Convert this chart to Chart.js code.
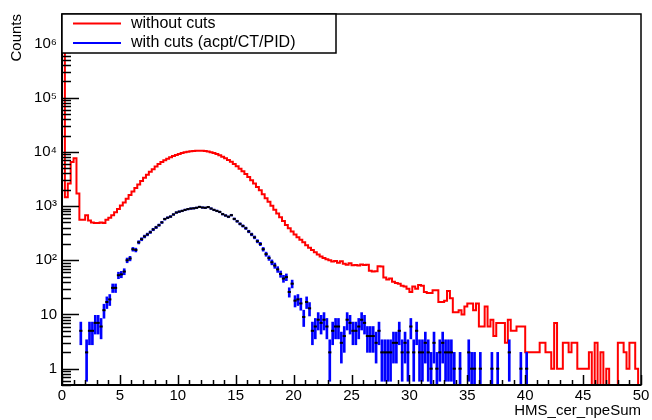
<!DOCTYPE html>
<html>
<head>
<meta charset="utf-8">
<script src="https://cdn.jsdelivr.net/npm/chart.js@4.4.1/dist/chart.umd.min.js"></script>
<style>
  body { margin: 0; background: #fff; }
  #wrap { width: 652px; height: 420px; }
</style>
</head>
<body>
<div id="wrap"><canvas id="npe-chart" width="652" height="420"></canvas></div>
<script>
// 200 bins of 0.25 in HMS_cer_npeSum, 0..50
const binWidth = 0.25;
const withoutCuts = [
  3.4e6, 1450, 2600, 6500, 7600, 1700, 560, 560, 680, 540,
  500, 490, 490, 500, 490, 560, 610, 680, 770, 880,
  1020, 1170, 1370, 1600, 1850, 2150, 2500, 2900, 3350, 3800,
  4300, 4800, 5400, 5950, 6500, 7000, 7500, 7950, 8400, 8800,
  9150, 9500, 9800, 10050, 10250, 10400, 10500, 10550, 10500, 10350,
  10150, 9850, 9500, 9100, 8650, 8150, 7650, 7100, 6550, 6000,
  5450, 4900, 4400, 3900, 3450, 3000, 2600, 2250, 1950, 1650,
  1400, 1200, 1010, 860, 730, 620, 530, 450, 390, 340,
  300, 265, 240, 215, 190, 170, 155, 140, 128, 118,
  110, 104, 100, 95, 97, 90, 96, 86, 83, 88,
  81, 82, 80, 84, 82, 83, 64, 62, 63, 78,
  77, 48, 44, 46, 40, 38, 37, 34, 33, 30,
  26, 33, 30, 35, 34, 26, 25, 25, 28, 28,
  17, 17, 18, 27, 20, 11, 11, 12, 10, 14,
  16, 16, 12, 16, 6, 6, 14, 6, 8, 4,
  7, 7, 7, 3, 8, 5, 5, 6, 6, 6,
  2, 2, 2, 2, 2, 3, 3, 2, 2, 1,
  7, 1, 1, 3, 3, 2, 3, 3, 1, 1,
  1, 1, 2, 0, 3, 0, 2, 0, 1, 0,
  0, 0, 3, 3, 2, 1, 3, 3, 1, 0
];
const withCuts = [
  0, 0, 0, 0, 0, 0, 5, 0, 2, 5,
  5, 7, 7, 6, 12, 17, 19, 31, 31, 53,
  55, 62, 100, 108, 160, 155, 215, 245, 275, 300,
  330, 370, 405, 445, 500, 575, 610, 640, 700, 760,
  790, 815, 850, 880, 900, 910, 930, 965, 940, 930,
  960, 900, 850, 815, 780, 710, 670, 635, 680, 580,
  525, 470, 430, 390, 340, 300, 265, 225, 200, 160,
  130, 110, 92, 80, 68, 56, 46, 49, 26, 37,
  18, 19, 16, 9, 17, 13, 5, 6, 8, 7,
  8, 6, 2, 5, 6, 6, 3, 4, 8, 7,
  5, 5, 6, 8, 7, 4, 4, 4, 3, 5,
  2, 2, 2, 2, 3, 3, 5, 2, 3, 2,
  6, 2, 5, 2, 2, 3, 2, 1, 3, 1,
  2, 3, 2, 2, 2, 1, 0, 1, 0, 0,
  2, 1, 1, 0, 1, 0, 0, 0, 1, 0,
  1, 0, 0, 0, 2, 0, 0, 0, 1, 0,
  1, 0, 0, 0, 0, 0, 0, 0, 0, 0,
  0, 0, 0, 0, 0, 0, 0, 0, 0, 0,
  0, 0, 0, 0, 0, 0, 0, 0, 0, 0,
  0, 0, 0, 0, 0, 0, 0, 0, 0, 0
];
const xTicks = [0, 5, 10, 15, 20, 25, 30, 35, 40, 45, 50];
const yTicks = [1, 10, 100, 1000, 10000, 100000, 1000000];
const legendLabels = ["without cuts", "with cuts (acpt/CT/PID)"];

const xMin = 0, xMax = 50;
const yMin = 0.5, yMax = 3.5e6;
const FONT = "'Liberation Sans', Arial, sans-serif";

// histogram outline: one point per bin lower edge, horizontal step first
const redPoints = [{ x: xMin, y: yMin }];
withoutCuts.forEach((v, i) => redPoints.push({ x: i * binWidth, y: v > 0 ? v : yMin }));
redPoints.push({ x: xMax, y: yMin });

const errBars = [];
const markers = [];
withCuts.forEach((n, i) => {
  if (n <= 0) return;
  const c = (i + 0.5) * binWidth;
  const e = Math.sqrt(n);
  errBars.push({ x: c, y: [Math.max(n - e, yMin), n + e] });
  markers.push({ x: c, y: n });
});

const sup = ["\u2070", "\u00b9", "\u00b2", "\u00b3", "\u2074", "\u2075", "\u2076"];

// ROOT-like frame with inward ticks
const rootFrame = {
  id: "rootFrame",
  afterDatasetsDraw(chart) {
    const { ctx, chartArea: a, scales } = chart;
    const xs = scales.x, ys = scales.y;
    ctx.save();
    ctx.strokeStyle = "#000";
    ctx.lineWidth = 1.5;
    // x ticks
    for (let v = xMin; v <= xMax; v += 1) {
      const px = Math.round(xs.getPixelForValue(v)) + 0.5;
      const len = v % 5 === 0 ? 10 : 5;
      ctx.beginPath();
      ctx.moveTo(px, a.bottom);
      ctx.lineTo(px, a.bottom - len);
      ctx.stroke();
    }
    // y ticks (log)
    for (let d = -1; d <= 6; d++) {
      for (let k = 1; k <= 9; k++) {
        const v = k * Math.pow(10, d);
        if (v < yMin || v > yMax) continue;
        const py = Math.round(ys.getPixelForValue(v)) + 0.5;
        const len = k === 1 ? 17 : 9;
        ctx.beginPath();
        ctx.moveTo(a.left, py);
        ctx.lineTo(a.left + len, py);
        ctx.stroke();
      }
    }
    // frame
    ctx.lineWidth = 1.5;
    ctx.strokeRect(a.left, a.top, a.right - a.left, a.bottom - a.top);
    ctx.lineWidth = 2;
    ctx.beginPath();
    ctx.moveTo(a.left, a.top);
    ctx.lineTo(a.left, a.bottom);
    ctx.lineTo(a.right, a.bottom);
    ctx.stroke();
    ctx.restore();
  },
  afterDraw(chart) {
    const { ctx, chartArea: a } = chart;
    const w = 274, h = 39;
    ctx.save();
    ctx.fillStyle = "#fff";
    ctx.fillRect(a.left, a.top, w, h);
    ctx.strokeStyle = "#000";
    ctx.lineWidth = 1.5;
    ctx.strokeRect(a.left, a.top, w, h);
    const colors = ["#ff0000", "#0000ff"];
    ctx.font = "16px " + FONT;
    ctx.textBaseline = "middle";
    ctx.fillStyle = "#000";
    legendLabels.forEach((t, i) => {
      const y = a.top + 9.5 + i * 19.5;
      ctx.strokeStyle = colors[i];
      ctx.lineWidth = 2;
      ctx.beginPath();
      ctx.moveTo(a.left + 11, y);
      ctx.lineTo(a.left + 59, y);
      ctx.stroke();
      ctx.fillText(t, a.left + 69, y);
    });
    ctx.restore();
  }
};

const ctx = document.getElementById("npe-chart").getContext("2d");
const npeChart = new Chart(ctx, {
  data: {
    datasets: [
      {
        type: "scatter",
        label: "markers",
        data: markers,
        showLine: false,
        pointStyle: "line",
        pointRadius: 1.6,
        pointBorderWidth: 2,
        pointBorderColor: "#000",
        pointBackgroundColor: "#000",
        order: 0
      },
      {
        type: "bar",
        label: legendLabels[1],
        data: errBars,
        backgroundColor: "#0000ff",
        borderWidth: 0,
        barThickness: 2,
        grouped: false,
        order: 1
      },
      {
        type: "line",
        label: legendLabels[0],
        data: redPoints,
        stepped: "before",
        borderColor: "#ff0000",
        borderWidth: 2,
        pointRadius: 0,
        fill: false,
        order: 2
      }
    ]
  },
  options: {
    responsive: false,
    animation: false,
    devicePixelRatio: 1,
    layout: { padding: { top: 13, right: 11, left: 0, bottom: 0 } },
    plugins: {
      legend: { display: false },
      tooltip: { enabled: false }
    },
    scales: {
      x: {
        type: "linear",
        min: xMin,
        max: xMax,
        offset: false,
        grid: { display: false, drawTicks: false },
        border: { display: false },
        afterBuildTicks: (s) => { s.ticks = xTicks.map(v => ({ value: v })); },
        afterFit: (s) => { s.height = 35; },
        ticks: {
          autoSkip: false,
          maxRotation: 0,
          padding: 2,
          color: "#000",
          font: { family: FONT, size: 15 }
        },
        title: {
          display: true,
          text: "HMS_cer_npeSum",
          align: "end",
          color: "#000",
          padding: { top: 0, bottom: 0 },
          font: { family: FONT, size: 15 }
        }
      },
      y: {
        type: "logarithmic",
        min: yMin,
        max: yMax,
        grid: { display: false, drawTicks: false },
        border: { display: false },
        afterBuildTicks: (s) => { s.ticks = yTicks.map(v => ({ value: v })); },
        afterFit: (s) => { s.width = 62; },
        ticks: {
          padding: 5,
          color: "#000",
          font: { family: FONT, size: 15 },
          callback: (v) => {
            const e = Math.round(Math.log10(v));
            if (e === 0) return "1";
            if (e === 1) return "10";
            return "10" + sup[e];
          }
        },
        title: {
          display: true,
          text: "Counts",
          align: "end",
          color: "#000",
          padding: { top: 8, bottom: 0 },
          font: { family: FONT, size: 15 }
        }
      }
    }
  },
  plugins: [rootFrame]
});
</script>
</body>
</html>
